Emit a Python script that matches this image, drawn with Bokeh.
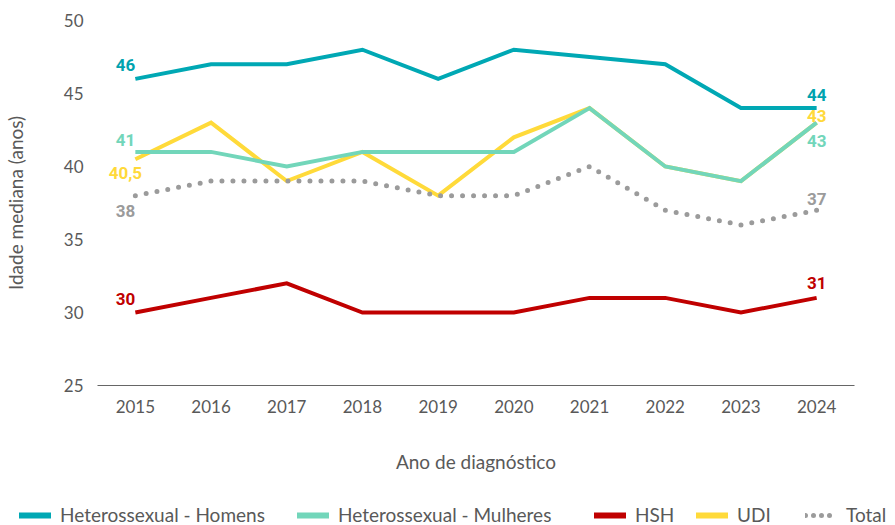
from bokeh.plotting import figure
from bokeh.layouts import column, row
from bokeh.core.properties import value
from bokeh.models import (Range1d, FixedTicker, Legend, LegendItem, LabelSet,
                          ColumnDataSource)
from bokeh.embed import file_html
from bokeh.resources import INLINE

years = [2015, 2016, 2017, 2018, 2019, 2020, 2021, 2022, 2023, 2024]
het_homens = [46, 47, 47, 48, 46, 48, 47.5, 47, 44, 44]
het_mulheres = [41, 41, 40, 41, 41, 41, 44, 40, 39, 43]
hsh = [30, 31, 32, 30, 30, 30, 31, 31, 30, 31]
udi = [40.5, 43, 39, 41, 38, 42, 44, 40, 39, 43]
total = [38, 39, 39, 39, 38, 38, 40, 37, 36, 37]
y_ticks = [25, 30, 35, 40, 45, 50]

names = ["Heterossexual - Homens", "Heterossexual - Mulheres", "HSH", "UDI", "Total"]
colors = {"Heterossexual - Homens": "#00A8B4", "Heterossexual - Mulheres": "#72D6BA",
          "HSH": "#C00000", "UDI": "#FFDA3A", "Total": "#9B9B9B"}
series = {"Heterossexual - Homens": het_homens, "Heterossexual - Mulheres": het_mulheres,
          "HSH": hsh, "UDI": udi, "Total": total}

FONT = "Lato"
BFONT = "Roboto"
TXT = "#595959"

p = figure(width=879, height=490, output_backend="svg", toolbar_location=None,
           x_range=Range1d(2014.5, 2024.5), y_range=Range1d(25, 50),
           min_border_left=91, min_border_right=25, min_border_top=20,
           min_border_bottom=105)
p.outline_line_color = None
p.background_fill_color = "white"
p.border_fill_color = "white"
p.xgrid.visible = False
p.ygrid.visible = False

p.xaxis.ticker = FixedTicker(ticks=years)
p.yaxis.ticker = FixedTicker(ticks=y_ticks)
for ax in (p.xaxis[0], p.yaxis[0]):
    ax.major_tick_line_color = None
    ax.minor_tick_line_color = None
    ax.major_label_text_font = FONT
    ax.major_label_text_font_size = "17px"
    ax.major_label_text_color = TXT
    ax.axis_label_text_font = FONT
    ax.axis_label_text_font_style = "normal"
    ax.axis_label_text_color = TXT
p.yaxis.axis_line_color = None
p.xaxis.axis_line_color = "#666666"
p.xaxis.axis_line_width = 1.2
p.xaxis.axis_label = "Ano de diagnóstico"
p.yaxis.axis_label = "Idade mediana (anos)"
p.xaxis.axis_label_text_font_size = "19px"
p.yaxis.axis_label_text_font_size = "19px"
p.xaxis.major_label_standoff = 8
p.yaxis.major_label_standoff = 8
p.xaxis.axis_label_standoff = 34
p.yaxis.axis_label_standoff = 34

draw_order = ["Heterossexual - Homens", "UDI", "Heterossexual - Mulheres", "HSH", "Total"]
for n in draw_order:
    if n == "Total":
        p.line(years, series[n], line_color=colors[n], line_width=5,
               line_dash="0 11", line_cap="round")
    else:
        p.line(years, series[n], line_color=colors[n], line_width=4,
               line_join="miter")

def fmt(v):
    return ("%g" % v).replace(".", ",")

label_style = {
    "Heterossexual - Homens": (("right", 0, 14), ("center", 0, 13)),
    "Heterossexual - Mulheres": (("right", 0, 12), ("center", 0, -18)),
    "UDI": (("center", -10, -14), ("center", 0, 7)),
    "Total": (("right", 0, -15), ("center", 0, 11)),
    "HSH": (("right", 0, 14), ("center", 0, 15)),
}
label_colors = {"Heterossexual - Homens": "#00A3AF", "Heterossexual - Mulheres": "#72D6BA",
                "HSH": "#C00000", "UDI": "#FFD93A", "Total": "#9B9B9B"}
for n, (first, last) in label_style.items():
    vals = series[n]
    for idx, (align, xo, yo) in ((0, first), (len(years) - 1, last)):
        src = ColumnDataSource(dict(x=[years[idx]], y=[vals[idx]], t=[fmt(vals[idx])]))
        ls = LabelSet(x="x", y="y", text="t", source=src, x_offset=xo, y_offset=yo,
                      text_align=align, text_baseline="middle",
                      text_font=value(BFONT), text_font_style="bold",
                      text_font_size="17px", text_color=label_colors[n])
        p.add_layout(ls)

# legend strip as a separate small figure
lf = figure(width=887, height=35, output_backend="svg", toolbar_location=None,
            x_range=Range1d(0, 1), y_range=Range1d(0, 1),
            x_axis_type=None, y_axis_type=None,
            min_border_left=0, min_border_right=0, min_border_top=0, min_border_bottom=0)
lf.outline_line_color = None
lf.xgrid.visible = False
lf.ygrid.visible = False

nan = float("nan")
legend_x = {"Heterossexual - Homens": 19, "Heterossexual - Mulheres": 297,
            "HSH": 594, "UDI": 696, "Total": 805}
for n in names:
    if n == "Total":
        r = lf.line([nan], [nan], line_color=colors[n], line_width=5, line_dash="0 8",
                    line_cap="round")
    else:
        r = lf.line([nan], [nan], line_color=colors[n], line_width=6, line_cap="round")
    lg = Legend(items=[LegendItem(label=n, renderers=[r])],
                location=(legend_x[n], -1), orientation="horizontal",
                border_line_color=None, background_fill_alpha=0,
                padding=0, margin=0, glyph_width=32, glyph_height=18,
                label_standoff=9, label_text_font=FONT, label_text_font_size="19px",
                label_text_color=TXT, label_height=18)
    lf.add_layout(lg)

layout = column(p, row(lf), spacing=0)
open("out.html", "w").write(file_html(layout, INLINE))
